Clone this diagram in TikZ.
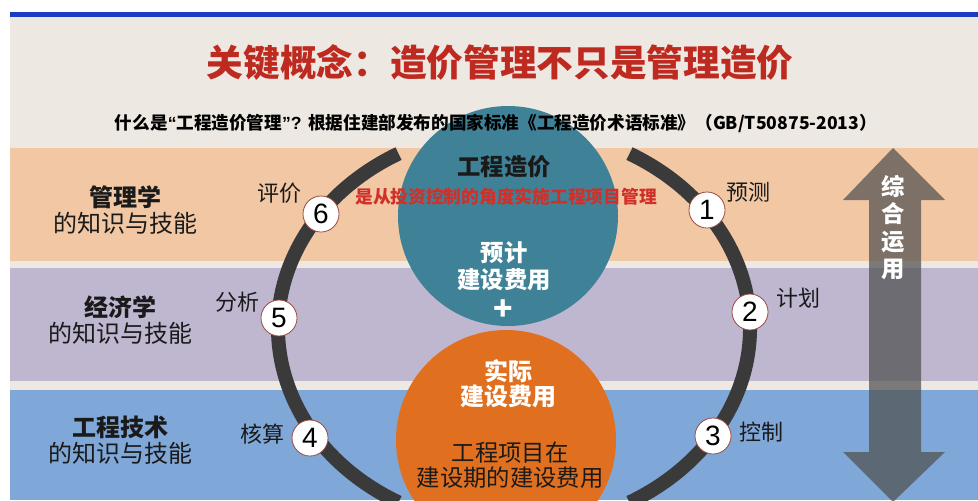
\documentclass[tikz,border=0pt]{standalone}
\usepackage{fontspec}
\setmainfont{Noto Sans CJK SC}
\newfontfamily\numfont{Liberation Sans}
\definecolor{bgbeige}{HTML}{EDE9E2}
\definecolor{topblue}{HTML}{1C3CC2}
\definecolor{peach}{HTML}{F2C8A4}
\definecolor{lav}{HTML}{BFB6CF}
\definecolor{bandblue}{HTML}{7FA7D8}
\definecolor{titlered}{HTML}{BE2A20}
\definecolor{redtext}{HTML}{D0302A}
\definecolor{tealc}{HTML}{3F8297}
\definecolor{orangec}{HTML}{E0701F}
\definecolor{ringc}{HTML}{3A3A3A}
\definecolor{numborder}{HTML}{9A4A40}
\definecolor{arrowgray}{HTML}{505050}
\definecolor{darktext}{HTML}{1A1A1A}
\tikzset{
  ring/.style={ringc, line width=10.5pt},
  numc/.style={circle, fill=white, draw=numborder, line width=0.6pt, minimum size=27pt, inner sep=0pt, font=\numfont\fontsize{21}{21}\selectfont, text=black},
  steplabel/.style={font=\fontsize{16.5}{18}\selectfont, text=darktext, inner sep=0pt},
  sidelabel/.style={align=center, font=\fontsize{18}{19.5}\selectfont, text=darktext, inner sep=0pt},
  bigcirc/.style={circle, minimum size=165pt, inner sep=0pt},
  whitebold/.style={align=center, text=white, font=\fontsize{17.5}{20}\selectfont\bfseries, inner sep=0pt},
}
\begin{document}
\begin{tikzpicture}[x=0.75pt,y=-0.75pt]
\useasboundingbox (0,0) rectangle (978,500);
\clip (0,0) rectangle (978,500);
\fill[white] (0,0) rectangle (978,500);
\fill[bgbeige] (10,17) rectangle (978,500);
\fill[topblue] (10,12) rectangle (978,17);
\fill[peach] (10,148) rectangle (978,261);
\fill[lav] (10,268) rectangle (978,381);
\fill[bandblue] (10,390) rectangle (978,500);

% title
\node[font=\fontsize{27.5}{30}\selectfont\bfseries, text=titlered, inner sep=0pt] (title) at (500,63) {关键概念：造价管理不只是管理造价};

% ring
\coordinate (rc) at (514,328);
\draw[ring] (rc) ++(-60.7:236 and 200) arc[start angle=-60.7, end angle=60.7, x radius=236, y radius=200];
\draw[ring] (rc) ++(119.3:236 and 200) arc[start angle=119.3, end angle=240.7, x radius=236, y radius=200];

% big circles
\node[bigcirc, fill=tealc] (teal) at (508,216) {};
\node[bigcirc, fill=orangec] (orange) at (506,440) {};

% subtitle
\node[font=\fontsize{13.2}{15}\selectfont\bfseries, text=black, inner sep=0pt] (sub) at (496,123) {什么是{\numfont\bfseries “}工程造价管理{\numfont\bfseries ”? }根据住建部发布的国家标准《工程造价术语标准》（GB/T50875-2013）};

\node[font=\fontsize{17.5}{20}\selectfont\bfseries, text=darktext, inner sep=0pt] (gczj) at (504,167) {工程造价};
\node[font=\fontsize{13.3}{15}\selectfont\bfseries, text=redtext, inner sep=0pt] (def) at (506,197) {是从投资控制的角度实施工程项目管理};
\node[whitebold] (yuji) at (504,266) {预计\\建设费用};
\node[text=white, font=\fontsize{24}{24}\selectfont\bfseries, inner sep=0pt] (plus) at (503,310) {+};
\node[whitebold, font=\fontsize{18}{19}\selectfont\bfseries] (shiji) at (508,384) {实际\\建设费用};
\node[align=center, text=darktext, font=\fontsize{17.5}{18.5}\selectfont, inner sep=0pt] (gcxm) at (510,465) {工程项目在\\建设期的建设费用};

% side labels
\node[sidelabel] (glx) at (125,210) {\textbf{管理学}\\的知识与技能};
\node[sidelabel] (jjx) at (120,320) {\textbf{经济学}\\的知识与技能};
\node[sidelabel] (gcjs) at (120,440) {\textbf{工程技术}\\的知识与技能};

% numbered steps
\node[numc] (n1) at (707,210) {1};
\node[numc] (n2) at (750,312) {2};
\node[numc] (n3) at (713,436) {3};
\node[numc] (n4) at (310,438) {4};
\node[numc] (n5) at (279,318) {5};
\node[numc] (n6) at (321,214) {6};
\node[steplabel] (l1) at (748,192) {预测};
\node[steplabel] (l2) at (798,298) {计划};
\node[steplabel] (l3) at (761,432) {控制};
\node[steplabel] (l4) at (262,434) {核算};
\node[steplabel] (l5) at (237,302) {分析};
\node[steplabel] (l6) at (279,193) {评价};

% double arrow
\fill[arrowgray, opacity=0.72] (893,148) -- (945,200) -- (921,200) -- (921,452) -- (945,452) -- (893,502) -- (843,452) -- (869,452) -- (869,200) -- (843,200) -- cycle;
\node[align=center, text=white, font=\fontsize{17.5}{20.5}\selectfont\bfseries, inner sep=0pt, anchor=north] (zhyy) at (893,175) {综\\合\\运\\用};
\end{tikzpicture}
\end{document}
